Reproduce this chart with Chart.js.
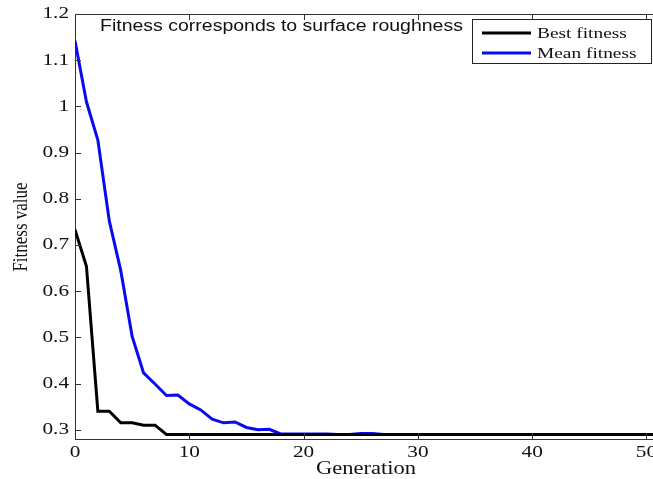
<!DOCTYPE html>
<html>
<head>
<meta charset="utf-8">
<script src="https://cdn.jsdelivr.net/npm/chart.js@4"></script>
<style>
  html, body { margin: 0; padding: 0; background: #fff; }
  #wrap { width: 653px; height: 479px; position: relative; }
</style>
</head>
<body>
<div id="wrap"><canvas id="c" width="653" height="479"></canvas></div>
<script>
// values
const generations = [0, 1, 2, 3, 4, 5, 6, 7, 8, 9, 10, 11, 12, 13, 14, 15, 16, 17, 18, 19, 20,
  21, 22, 23, 24, 25, 26, 27, 28, 29, 30, 31, 32, 33, 34, 35, 36, 37, 38, 39, 40,
  41, 42, 43, 44, 45, 46, 47, 48, 49, 50, 51];
const bestFitness = [0.733, 0.654, 0.340, 0.340, 0.315, 0.315, 0.310, 0.310, 0.290, 0.290, 0.290,
  0.290, 0.290, 0.290, 0.290, 0.290, 0.290, 0.290, 0.290, 0.290, 0.290,
  0.290, 0.290, 0.290, 0.290, 0.290, 0.290, 0.290, 0.290, 0.290, 0.290,
  0.290, 0.290, 0.290, 0.290, 0.290, 0.290, 0.290, 0.290, 0.290, 0.290,
  0.290, 0.290, 0.290, 0.290, 0.290, 0.290, 0.290, 0.290, 0.290, 0.290, 0.290];
const meanFitness = [1.142, 1.010, 0.927, 0.752, 0.645, 0.502, 0.423, 0.399, 0.374, 0.375, 0.356,
  0.343, 0.323, 0.315, 0.317, 0.305, 0.300, 0.301, 0.291, 0.291, 0.291,
  0.291, 0.291, 0.290, 0.290, 0.292, 0.292, 0.290, 0.290, 0.290, 0.290,
  0.290, 0.290, 0.290, 0.290, 0.290, 0.290, 0.290, 0.290, 0.290, 0.290,
  0.290, 0.290, 0.290, 0.290, 0.290, 0.290, 0.290, 0.290, 0.290, 0.290, 0.290];
const xTicks = [0, 10, 20, 30, 40, 50];
const yTicks = [0.3, 0.4, 0.5, 0.6, 0.7, 0.8, 0.9, 1, 1.1, 1.2];
const seriesLabels = ['Best fitness', 'Mean fitness'];
const seriesColors = ['#000000', '#0a0af0'];
const plotTitle = 'Fitness corresponds to surface roughness';
const xTitle = 'Generation';
const yTitle = 'Fitness value';

const SERIF = '"Liberation Serif", "DejaVu Serif", serif';
const SANS = '"Liberation Sans", Arial, sans-serif';
const AXIS = '#333333';
const TEXT = '#111111';
const STRETCH = 1.25;   // the source figure is widened; text glyphs follow it

function wideText(ctx, text, x, y, align, font) {
  ctx.save();
  ctx.font = font;
  ctx.fillStyle = TEXT;
  ctx.textAlign = align;
  ctx.textBaseline = 'middle';
  ctx.translate(x, y);
  ctx.scale(STRETCH, 1);
  ctx.fillText(text, 0, 0);
  ctx.restore();
}

// MATLAB-style box: inward tick marks, top border, labels, framed legend, inner title
const matlabBox = {
  id: 'matlabBox',
  afterDraw(chart) {
    const { ctx, chartArea: a, scales } = chart;
    ctx.save();
    ctx.strokeStyle = AXIS;
    ctx.lineWidth = 1;
    ctx.beginPath();
    ctx.moveTo(a.left, a.top + 0.5);
    ctx.lineTo(a.right, a.top + 0.5);
    scales.x.ticks.forEach(t => {
      const px = Math.round(scales.x.getPixelForValue(t.value)) + 0.5;
      ctx.moveTo(px, a.bottom); ctx.lineTo(px, a.bottom - 6);
      ctx.moveTo(px, a.top);    ctx.lineTo(px, a.top + 6);
    });
    scales.y.ticks.forEach(t => {
      const py = Math.round(scales.y.getPixelForValue(t.value)) + 0.5;
      ctx.moveTo(a.left, py); ctx.lineTo(a.left + 6, py);
    });
    ctx.stroke();
    ctx.restore();

    // tick labels
    const tickFont = '17px ' + SERIF;
    scales.x.ticks.forEach(t => {
      wideText(ctx, String(t.value), scales.x.getPixelForValue(t.value), a.bottom + 14, 'center', tickFont);
    });
    scales.y.ticks.forEach(t => {
      wideText(ctx, String(Math.round(t.value * 10) / 10), a.left - 6, scales.y.getPixelForValue(t.value), 'right', tickFont);
    });

    // axis titles
    wideText(ctx, xTitle, (a.left + a.right) / 2 + 2, a.bottom + 30, 'center', '18px ' + SERIF);
    ctx.save();
    ctx.translate(21, 227);
    ctx.rotate(-Math.PI / 2);
    ctx.scale(1, STRETCH);
    ctx.font = '17px ' + SERIF;
    ctx.fillStyle = TEXT;
    ctx.textAlign = 'center';
    ctx.textBaseline = 'middle';
    ctx.fillText(yTitle, 0, 0);
    ctx.restore();

    // title inside the axes
    wideText(ctx, plotTitle, a.left + 25, a.top + 13, 'left', '15.6px ' + SANS);

    // legend box
    const bx = a.right - 181, by = a.top + 5, bw = 179, bh = 44;
    ctx.save();
    ctx.fillStyle = '#fff';
    ctx.fillRect(bx, by, bw, bh);
    ctx.strokeStyle = '#222';
    ctx.lineWidth = 1;
    ctx.strokeRect(bx + 0.5, by + 0.5, bw, bh);
    chart.data.datasets.forEach((ds, i) => {
      const ly = by + 14 + i * 20;
      ctx.strokeStyle = ds.borderColor;
      ctx.lineWidth = 3;
      ctx.beginPath();
      ctx.moveTo(bx + 10, ly); ctx.lineTo(bx + 59, ly);
      ctx.stroke();
      wideText(ctx, ds.label, bx + 65, ly + 1, 'left', '15.5px ' + SERIF);
    });
    ctx.restore();
  }
};

new Chart(document.getElementById('c'), {
  type: 'line',
  data: {
    datasets: seriesLabels.map((label, i) => ({
      label,
      data: generations.map((g, k) => ({ x: g, y: (i === 0 ? bestFitness : meanFitness)[k] })),
      borderColor: seriesColors[i],
      borderWidth: 3,
      pointRadius: 0,
      tension: 0,
      fill: false,
    })),
  },
  options: {
    responsive: false,
    animation: false,
    devicePixelRatio: 1,
    layout: { padding: { top: 14, right: 0, left: 0, bottom: 0 } },
    plugins: { legend: { display: false }, tooltip: { enabled: false } },
    scales: {
      x: {
        type: 'linear', min: 0, max: 50.57,
        afterBuildTicks: s => { s.ticks = xTicks.map(v => ({ value: v })); },
        afterFit: s => { s.height = 40; s.paddingLeft = 0; s.paddingRight = 0; },
        grid: { display: false, drawTicks: false },
        border: { display: true, color: AXIS, width: 1 },
        ticks: { display: false },
      },
      y: {
        type: 'linear', min: 0.28, max: 1.2,
        afterBuildTicks: s => { s.ticks = yTicks.map(v => ({ value: v })); },
        afterFit: s => { s.width = 75; s.paddingTop = 0; s.paddingBottom = 0; },
        grid: { display: false, drawTicks: false },
        border: { display: true, color: AXIS, width: 1 },
        ticks: { display: false },
      },
    },
  },
  plugins: [matlabBox],
});
</script>
</body>
</html>
